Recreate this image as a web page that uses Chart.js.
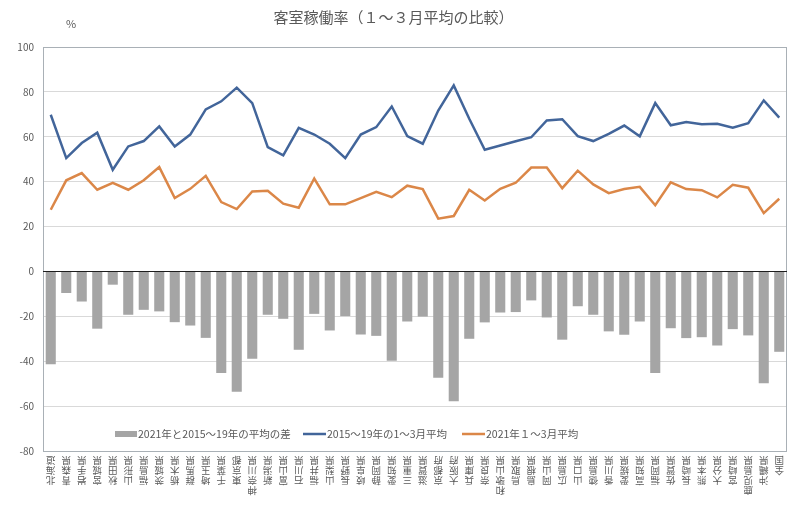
<!DOCTYPE html>
<html lang="ja">
<head>
<meta charset="utf-8">
<title>客室稼働率（１～３月平均の比較）</title>
<script src="https://cdn.jsdelivr.net/npm/chart.js@4.4.1/dist/chart.umd.min.js"></script>
<style>
  html, body { margin: 0; padding: 0; background: #fff; }
  #wrap { width: 800px; height: 511px; }
</style>
</head>
<body>
<div id="wrap"><canvas id="occupancyChart" width="800" height="511"></canvas></div>
<script>
// Prefectures + national total
const categories = [
    '北海道', '青森県', '岩手県', '宮城県', '秋田県', '山形県', '福島県', '茨城県',
    '栃木県', '群馬県', '埼玉県', '千葉県', '東京都', '神奈川県', '新潟県', '富山県',
    '石川県', '福井県', '山梨県', '長野県', '岐阜県', '静岡県', '愛知県', '三重県',
    '滋賀県', '京都府', '大阪府', '兵庫県', '奈良県', '和歌山県', '鳥取県', '島根県',
    '岡山県', '広島県', '山口県', '徳島県', '香川県', '愛媛県', '高知県', '福岡県',
    '佐賀県', '長崎県', '熊本県', '大分県', '宮崎県', '鹿児島県', '沖縄県', '全国'
];

// 2021 minus 2015-19 average (points)
const diffValues = [
    -41.4, -9.6, -13.4, -25.5, -5.9, -19.3, -17.1, -17.8,
    -22.6, -24.1, -29.6, -45.2, -53.6, -38.9, -19.3, -21.1,
    -34.9, -18.9, -26.3, -19.9, -28.1, -28.7, -39.8, -22.3,
    -20.1, -47.4, -57.8, -30.0, -22.7, -18.3, -18.1, -12.9,
    -20.5, -30.4, -15.5, -19.3, -26.7, -28.2, -22.3, -45.3,
    -25.3, -29.7, -29.3, -33.0, -25.7, -28.5, -49.8, -35.8
];

// 2015-19 Jan-Mar average (%)
const avg2015to19 = [
    69.8, 50.5, 57.2, 61.8, 45.3, 55.7, 58.1, 64.6,
    55.7, 61.0, 72.2, 75.8, 81.9, 75.0, 55.4, 51.7,
    64.0, 61.0, 56.9, 50.5, 61.0, 64.3, 73.5, 60.3,
    56.9, 71.7, 82.9, 68.0, 54.2, 56.1, 58.0, 59.8,
    67.3, 67.8, 60.3, 58.1, 61.3, 65.0, 60.2, 75.0,
    65.1, 66.6, 65.6, 65.8, 64.0, 66.1, 76.2, 68.5
];

// 2021 Jan-Mar average (%)
const avg2021 = [
    27.5, 40.6, 43.8, 36.4, 39.5, 36.4, 40.6, 46.5,
    32.7, 36.8, 42.6, 30.9, 27.8, 35.6, 35.9, 30.2,
    28.4, 41.4, 29.9, 29.9, 32.7, 35.5, 33.1, 38.2,
    36.7, 23.5, 24.7, 36.4, 31.6, 36.8, 39.5, 46.3,
    46.3, 37.1, 44.9, 38.8, 34.9, 36.7, 37.7, 29.5,
    39.7, 36.7, 36.2, 33.0, 38.6, 37.3, 26.0, 32.4
];

// Y axis range
const yMin = -80;
const yMax = 100;
const yStep = 20;

const seriesNames = ['2021年と2015～19年の平均の差', '2015～19年の1～3月平均', '2021年１～3月平均'];
const colors = { bar: '#a5a5a5', blue: '#42659a', orange: '#db8748', text: '#595959' };
const fontFamily = '"Noto Sans CJK JP", "Noto Sans", sans-serif';

// Frame around the plot area and the black zero line
const framePlugin = {
    id: 'frame',
    afterDatasetsDraw(chart) {
        const { ctx, chartArea, scales } = chart;
        ctx.save();
        ctx.strokeStyle = '#a9b0b6';
        ctx.lineWidth = 1;
        ctx.strokeRect(chartArea.left + 0.5, chartArea.top + 0.5,
            chartArea.right - chartArea.left - 1, chartArea.bottom - chartArea.top);
        const y0 = Math.round(scales.y.getPixelForValue(0)) + 0.5;
        ctx.strokeStyle = '#1e1e1e';
        ctx.beginPath();
        ctx.moveTo(chartArea.left, y0);
        ctx.lineTo(chartArea.right, y0);
        ctx.stroke();
        ctx.restore();
    }
};

// Legend inside the plot, "%" unit and stacked category labels
const labelsPlugin = {
    id: 'labels',
    afterDraw(chart) {
        const { ctx, chartArea, scales } = chart;
        ctx.save();
        ctx.fillStyle = colors.text;

        // unit
        ctx.font = '11px ' + fontFamily;
        ctx.textAlign = 'center';
        ctx.textBaseline = 'middle';
        ctx.fillText('%', 71, 24);

        // legend
        const ly = chartArea.bottom - 17;
        ctx.font = '10.5px ' + fontFamily;
        ctx.textAlign = 'left';
        ctx.fillStyle = colors.bar;
        ctx.fillRect(115, ly - 3, 22, 6);
        ctx.strokeStyle = colors.blue;
        ctx.lineWidth = 2.5;
        ctx.beginPath(); ctx.moveTo(303, ly); ctx.lineTo(326, ly); ctx.stroke();
        ctx.strokeStyle = colors.orange;
        ctx.beginPath(); ctx.moveTo(462, ly); ctx.lineTo(485, ly); ctx.stroke();
        ctx.fillStyle = colors.text;
        ctx.fillText(seriesNames[0], 138, ly);
        ctx.fillText(seriesNames[1], 327, ly);
        ctx.fillText(seriesNames[2], 486, ly);

        // category labels: vertical text turned upside down
        ctx.font = '9.5px ' + fontFamily;
        ctx.textAlign = 'center';
        categories.forEach((name, i) => {
            const x = scales.x.getPixelForValue(i);
            const chars = name.split('').reverse();
            chars.forEach((ch, j) => {
                ctx.save();
                ctx.translate(x, chartArea.bottom + 10 + j * 10);
                ctx.rotate(Math.PI);
                ctx.fillText(ch, 0, 0);
                ctx.restore();
            });
        });
        ctx.restore();
    }
};

new Chart(document.getElementById('occupancyChart'), {
    data: {
        labels: categories,
        datasets: [
            {
                type: 'line',
                label: seriesNames[1],
                data: avg2015to19,
                borderColor: colors.blue,
                borderWidth: 2.5,
                pointRadius: 0,
                tension: 0,
                order: 1
            },
            {
                type: 'line',
                label: seriesNames[2],
                data: avg2021,
                borderColor: colors.orange,
                borderWidth: 2.5,
                pointRadius: 0,
                tension: 0,
                order: 2
            },
            {
                type: 'bar',
                label: seriesNames[0],
                data: diffValues,
                backgroundColor: colors.bar,
                barPercentage: 0.65,
                categoryPercentage: 1.0,
                order: 3
            }
        ]
    },
    options: {
        responsive: false,
        animation: false,
        layout: { padding: { left: 0, right: 13, top: 0, bottom: 0 } },
        plugins: {
            legend: { display: false },
            tooltip: { enabled: false },
            title: {
                display: true,
                text: '客室稼働率（１～３月平均の比較）',
                color: colors.text,
                font: { family: fontFamily, size: 15, weight: 'normal' },
                padding: { top: 8, bottom: 21 }
            }
        },
        scales: {
            x: {
                grid: { display: false },
                border: { display: false },
                ticks: { display: false },
                afterFit(scale) { scale.height = 60; }
            },
            y: {
                min: yMin,
                max: yMax,
                grid: {
                    color: (c) => c.tick.value === 0 ? 'rgba(0,0,0,0)' : '#d9d9d9',
                    drawTicks: false
                },
                border: { display: false },
                ticks: {
                    stepSize: yStep,
                    color: colors.text,
                    padding: 9,
                    font: { family: fontFamily, size: 10 }
                },
                afterFit(scale) { scale.width = 43; }
            }
        }
    },
    plugins: [framePlugin, labelsPlugin]
});
</script>
</body>
</html>
